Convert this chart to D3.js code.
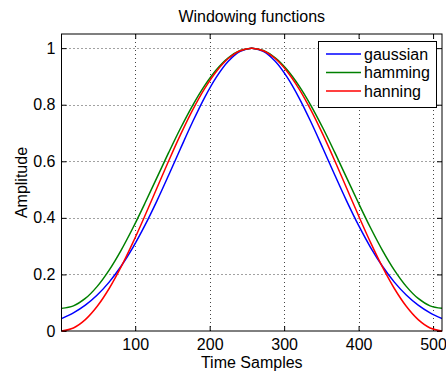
<!DOCTYPE html>
<html><head><meta charset="utf-8">
<script src="https://cdn.jsdelivr.net/npm/d3@7"></script>
<style>
html,body{margin:0;padding:0;background:#fff;}
svg{display:block;font-family:"Liberation Sans",Arial,sans-serif;}
</style></head>
<body>
<script>
// sample positions (time samples)
const samplesLeft = [1,17,33,49,65,81,97,113,129,145,161,177,193,209,225,241,256];
// values at the left-half sample positions (curves are symmetric)
const gaussianLeft = [0.0439,0.0642,0.0915,0.1273,0.1728,0.2289,0.2959,0.3732,0.4592,0.5515,0.6462,0.7389,0.8245,0.8976,0.9536,0.9886,1.0000];
const hammingLeft  = [0.0800,0.0889,0.1151,0.1578,0.2152,0.2852,0.3650,0.4515,0.5414,0.6313,0.7177,0.7972,0.8668,0.9238,0.9659,0.9917,1.0000];
const hanningLeft  = [0.0000,0.0108,0.0403,0.0874,0.1502,0.2265,0.3133,0.4072,0.5046,0.6019,0.6952,0.7811,0.8563,0.9177,0.9633,0.9910,1.0000];

const seriesNames = ["gaussian","hamming","hanning"];
const seriesColors = ["#0000ff","#008000","#ff0000"];
const xTicks = [100,200,300,400,500];
const yTicks = [0,0.2,0.4,0.6,0.8,1];
const yTickLabels = ["0","0.2","0.4","0.6","0.8","1"];

// mirror halves into full series
const samples = samplesLeft.concat(samplesLeft.slice().reverse().map(n => 513 - n));
const mirror = a => a.concat(a.slice().reverse());
const seriesValues = [mirror(gaussianLeft), mirror(hammingLeft), mirror(hanningLeft)];

const W = 446, H = 375;
const pL = 61.5, pR = 442, pT = 34, pB = 331;

const svg = d3.select("body").append("svg").attr("width", W).attr("height", H);

const x = d3.scaleLinear().domain([1,512]).range([pL,pR]);
const y = d3.scaleLinear().domain([0,1.05]).range([pB,pT]);

// grid
const grid = svg.append("g");
grid.selectAll(".gx").data(xTicks).join("line")
  .attr("x1", d => Math.round(x(d))+0.5).attr("x2", d => Math.round(x(d))+0.5)
  .attr("y1", pT).attr("y2", pB)
  .attr("stroke", "#444").attr("stroke-width", 1).attr("stroke-dasharray", "1,3");
grid.selectAll(".gy").data(yTicks.filter(d => d > 0)).join("line")
  .attr("y1", d => Math.round(y(d))+0.5).attr("y2", d => Math.round(y(d))+0.5)
  .attr("x1", pL).attr("x2", pR)
  .attr("stroke", "#444").attr("stroke-width", 1).attr("stroke-dasharray", "1,3");

// axes
const fmtY = d => yTickLabels[yTicks.indexOf(d)];
const axB = svg.append("g").attr("transform", `translate(0,${pB})`)
  .call(d3.axisBottom(x).tickValues(xTicks).tickSizeInner(-5).tickSizeOuter(0).tickPadding(8));
const axT = svg.append("g").attr("transform", `translate(0,${pT})`)
  .call(d3.axisTop(x).tickValues(xTicks).tickSizeInner(-5).tickSizeOuter(0).tickFormat(""));
const axL = svg.append("g").attr("transform", `translate(${pL},0)`)
  .call(d3.axisLeft(y).tickValues(yTicks).tickSizeInner(-5).tickSizeOuter(0).tickPadding(6).tickFormat(fmtY));
const axR = svg.append("g").attr("transform", `translate(${pR},0)`)
  .call(d3.axisRight(y).tickValues(yTicks).tickSizeInner(-5).tickSizeOuter(0).tickFormat(""));
[axB,axT,axL,axR].forEach(a => {
  a.select(".domain").remove();
  a.selectAll("line").attr("stroke","#000");
  a.selectAll("text").attr("font-size", 16).attr("fill","#000")
    .attr("font-family", '"Liberation Sans",Arial,sans-serif');
});
axB.selectAll("text").attr("dy", "0.71em");

// lines
const line = d3.line().x((d,i) => x(samples[i])).y(d => y(d)).curve(d3.curveCatmullRom);
svg.append("clipPath").attr("id","clip").append("rect")
  .attr("x", pL).attr("y", pT).attr("width", pR-pL).attr("height", pB-pT+1);
const lines = svg.append("g").attr("clip-path","url(#clip)");
seriesValues.forEach((vals, k) => {
  lines.append("path").datum(vals).attr("d", line)
    .attr("fill","none").attr("stroke", seriesColors[k]).attr("stroke-width", 1.5);
});

// frame
svg.append("rect").attr("x", pL).attr("y", pT).attr("width", pR-pL).attr("height", pB-pT)
  .attr("fill","none").attr("stroke","#000").attr("stroke-width",1);

// title & labels
svg.append("text").attr("x", (pL+pR)/2).attr("y", 22).attr("text-anchor","middle")
  .attr("font-size",16).text("Windowing functions");
svg.append("text").attr("x", (pL+pR)/2).attr("y", 368).attr("text-anchor","middle")
  .attr("font-size",16).text("Time Samples");
svg.append("text").attr("transform", `translate(26.5,${(pT+pB)/2}) rotate(-90)`)
  .attr("text-anchor","middle").attr("font-size",16).text("Amplitude");

// legend
const lg = svg.append("g");
lg.append("rect").attr("x",318.5).attr("y",41.5).attr("width",118).attr("height",66)
  .attr("fill","#fff").attr("stroke","#000").attr("stroke-width",1);
seriesNames.forEach((name,k) => {
  const yy = 54 + k*18.5;
  lg.append("line").attr("x1",326).attr("x2",361).attr("y1",yy).attr("y2",yy)
    .attr("stroke",seriesColors[k]).attr("stroke-width",1.5);
  lg.append("text").attr("x",364).attr("y",yy).attr("dy","0.35em").attr("font-size",16).text(name);
});
</script>
</body></html>
